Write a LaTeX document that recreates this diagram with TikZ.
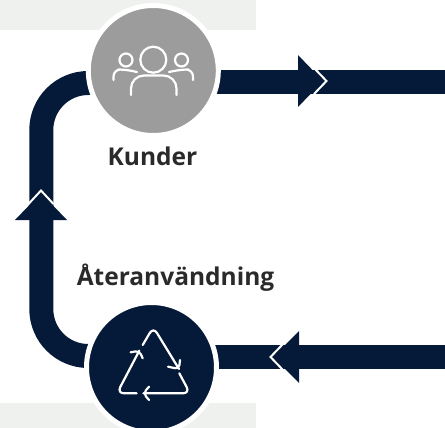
\documentclass[tikz,border=0pt]{standalone}
\usepackage{fontspec}
\setmainfont{Open Sans}
\usepackage{tikz}
\definecolor{navy}{HTML}{051A38}
\definecolor{stone}{HTML}{9B9C9B}
\definecolor{band}{HTML}{EFF1EF}
\definecolor{ink}{HTML}{2B2A2A}
\tikzset{
  flow/.style={draw=navy, line width=24pt, rounded corners=47pt},
  flowhead/.style={fill=navy},
  flowedge/.style={draw=white, line width=2pt},
  hub/.style={circle, draw=white, line width=5pt, minimum size=130pt, inner sep=0pt},
  caption/.style={text=ink, font=\bfseries\fontsize{24.5}{27}\selectfont, inner sep=0pt},
  glyph/.style={draw=white, line width=2.2pt, line cap=round, line join=round, rounded corners=4pt}
}
\begin{document}
\begin{tikzpicture}[x=1pt,y=-1pt]
  \useasboundingbox (0,0) rectangle (445,428);
  \fill[band] (0,0) rectangle (256,30);
  \fill[band] (0,403) rectangle (256,428);

  \coordinate (topin) at (153,83);
  \coordinate (topcorner) at (41.3,83);
  \coordinate (botcorner) at (41.3,356);
  \coordinate (botin) at (152,356);
  \coordinate (outright) at (445,82);
  \coordinate (outstart) at (153,82);
  \coordinate (inright) at (445,356.5);
  \coordinate (instart) at (152,356.5);
  \draw[flow] (topin) -- (topcorner) -- (botcorner) -- (botin);
  \path[flow] (outstart) edge (outright);
  \path[flow] (instart) edge (inright);

  \coordinate (uptip) at (41,193);
  \coordinate (righttip) at (323,81);
  \coordinate (lefttip) at (273,357);
  \fill[flowhead] (uptip) -- (67,220) -- (15,220) -- cycle;
  \draw[flowedge] (28.5,204) -- (41,190.5) -- (53.5,204);
  \fill[flowhead] (righttip) -- (298,107) -- (298,55) -- cycle;
  \draw[flowedge] (314,68) -- (326.5,81) -- (314,94);
  \fill[flowhead] (lefttip) -- (299,331) -- (299,383) -- cycle;
  \draw[flowedge] (283,344) -- (270.5,357) -- (283,370);

  \node[hub, fill=stone] (kunder) at (153.3,70.5) {};
  \node[hub, fill=navy] (reuse) at (151.5,367.5) {};
  \node[caption, anchor=base] (kunderlabel) at (152.5,165) {Kunder};
  \node[caption, anchor=base] (reuselabel) at (175.5,285) {Återanvändning};

  \draw[glyph] (153.3,59.7) circle (13);
  \draw[glyph] (126,60) circle (6.5);
  \draw[glyph] (181.5,60) circle (6.5);
  \draw[glyph, rounded corners=13pt] (131,95) -- (131,75.5) -- (176.5,75.5) -- (176.5,95);
  \draw[glyph, rounded corners=7pt] (113.5,80) -- (113.5,69.5) -- (125,69.5) -- (137,72);
  \draw[glyph, rounded corners=7pt] (193,80) -- (193,69.5) -- (181.5,69.5) -- (169,72);

  \draw[glyph, rounded corners=7pt] (142.7,345) -- (153.3,327) -- (179,369);
  \draw[glyph] (168,366.7) -- (179,369) -- (180,360);
  \draw[glyph, rounded corners=7pt] (179.3,373.3) -- (190,393.3) -- (143.3,393.3);
  \draw[glyph] (149,386.7) -- (143.3,393.3) -- (149,400);
  \draw[glyph, rounded corners=7pt] (136.7,393.3) -- (117,393.3) -- (139.3,350.7);
  \draw[glyph] (130.7,352.3) -- (139.3,350.7) -- (142.7,358.3);
\end{tikzpicture}
\end{document}
